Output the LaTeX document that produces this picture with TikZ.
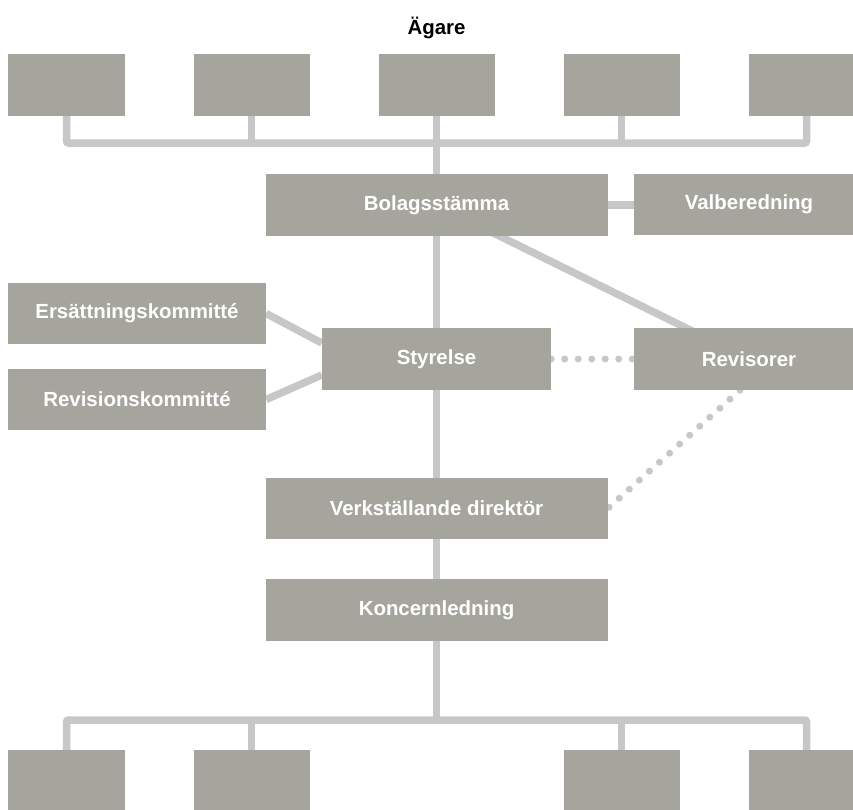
\documentclass[tikz,border=0pt]{standalone}
\usepackage{fontspec}
\setmainfont{Liberation Sans}
\usetikzlibrary{backgrounds}
\definecolor{boxgray}{HTML}{A6A59D}
\definecolor{linkgray}{HTML}{C6C7C9}

\begin{document}
\begin{tikzpicture}[x=1bp,y=-1bp,
  box/.style={fill=boxgray,draw=none,text=white,inner sep=0pt,minimum height=62bp,
    font=\bfseries\fontsize{20.5}{24}\selectfont},
  link/.style={draw=linkgray,line width=7.5bp},
  dotlink/.style={draw=linkgray,line width=7bp,line cap=round,dash pattern=on 0bp off 13.5bp}]
\useasboundingbox (0,0) rectangle (853,810);
\clip (0,0) rectangle (853,810);
\node[font=\bfseries\fontsize{20.5}{24}\selectfont,inner sep=0pt] (agare) at (436.5,28) {Ägare};
% owners
\node[box,minimum width=116bp] (own1) at (66.5,85) {};
\node[box,minimum width=116bp] (own2) at (251.5,85) {};
\node[box,minimum width=116bp] (own3) at (436.5,85) {};
\node[box,minimum width=116bp] (own4) at (621.5,85) {};
\node[box,minimum width=116bp] (own5) at (806.5,85) {};
\coordinate (topbus) at (436.5,143);
% governance
\node[box,minimum width=342bp] (bolag) at (436.5,205) {Bolagsstämma};
\node[box,minimum width=230bp,minimum height=61bp] (valb) at (749,204) {Valberedning};
\node[box,minimum width=258bp,minimum height=61bp] (ers) at (137,313.5) {Ersättningskommitté};
\node[box,minimum width=258bp,minimum height=61bp] (revk) at (137,399.5) {Revisionskommitté};
\node[box,minimum width=229bp] (styr) at (436.5,359) {Styrelse};
\node[box,minimum width=230bp] (revi) at (749,359) {Revisorer};
\node[box,minimum width=342bp,minimum height=61bp] (vd) at (436.5,508.5) {Verkställande direktör};
\node[box,minimum width=342bp] (kon) at (436.5,610) {Koncernledning};
% subsidiaries
\coordinate (botbus) at (436.5,720);
\node[box,minimum width=116bp] (sub1) at (66.5,781) {};
\node[box,minimum width=116bp] (sub2) at (251.5,781) {};
\node[box,minimum width=116bp] (sub3) at (621.5,781) {};
\node[box,minimum width=116bp] (sub4) at (806.5,781) {};
\begin{scope}[on background layer]
\draw[link,rounded corners=2bp] (own1.center) |- (topbus) -| (own5.center);
\foreach \o in {own2,own4} \draw[link] (\o.center) -- (\o |- topbus);
\draw[link] (own3.center) -- (kon.center) -- (kon |- botbus);
\draw[link] (bolag.center) -- (bolag -| valb);
\draw[link] (bolag.center) -- (revi.center);
\draw[link] (ers.east) -- ([yshift=16bp]styr.west);
\draw[link] (revk.east) -- ([yshift=-16bp]styr.west);
\draw[dotlink] (styr.east) -- (revi.west);
\draw[dotlink] ([xshift=-9bp]revi.south) -- (vd.east);
\draw[link,rounded corners=2bp] (sub1.center) |- (botbus) -| (sub4.center);
\foreach \s in {sub2,sub3} \draw[link] (\s.center) -- (\s |- botbus);
\end{scope}
\end{tikzpicture}
\end{document}
